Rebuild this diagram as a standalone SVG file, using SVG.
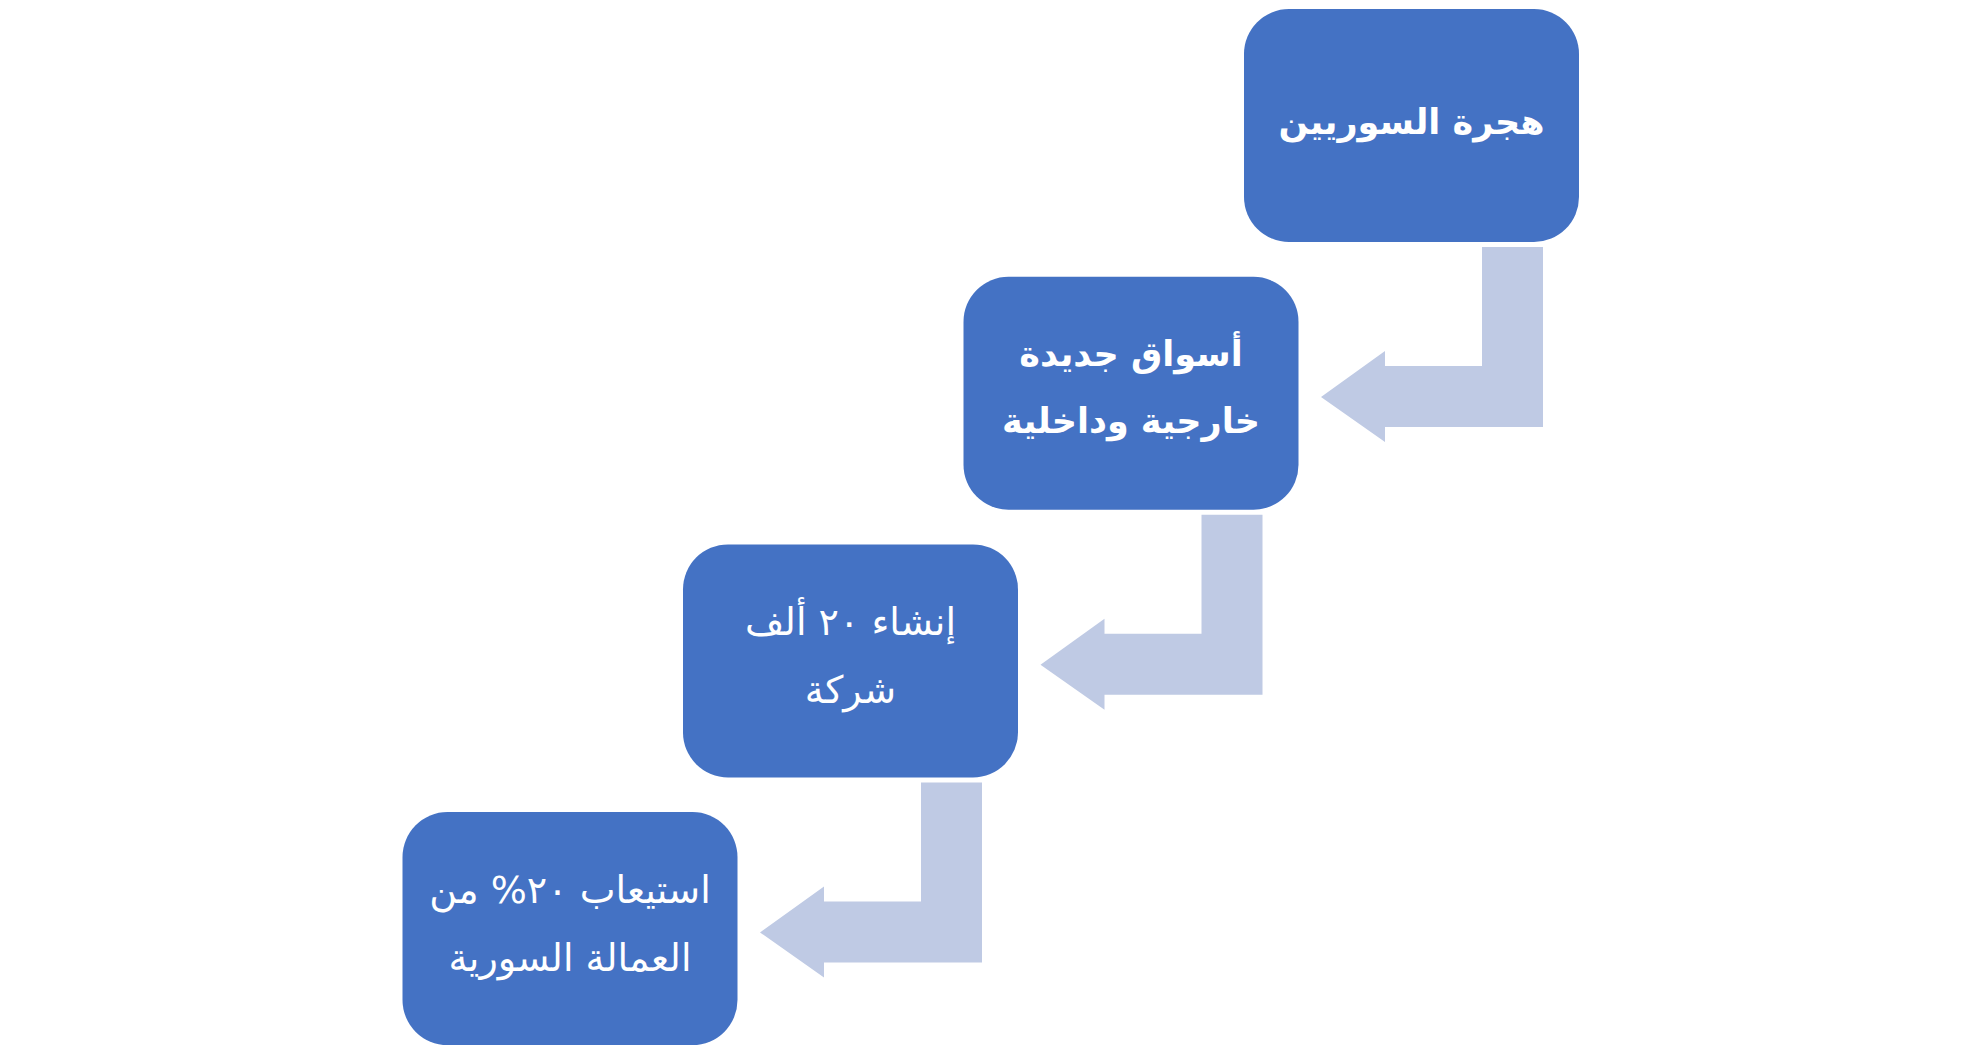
<svg xmlns="http://www.w3.org/2000/svg" width="1980" height="1053" viewBox="0 0 1980 1053">
<style>
.box{fill:#4472C4}
.arr{fill:#BFCAE4}
.t{font-family:"DejaVu Sans",sans-serif;fill:#FFFFFF;text-anchor:middle;direction:rtl}
.b{font-weight:bold;font-size:35px}
.r{font-size:38px}
</style>
<rect width="1980" height="1053" fill="#FFFFFF"/>
<g id="connectors">
<path id="c1" class="arr" d="M1482,247 L1543,247 L1543,427 L1385,427 L1385,442 L1321,397 L1385,351 L1385,366 L1482,366 Z"/>
<path id="c2" class="arr" transform="translate(-280.5,267.7)" d="M1482,247 L1543,247 L1543,427 L1385,427 L1385,442 L1321,397 L1385,351 L1385,366 L1482,366 Z"/>
<path id="c3" class="arr" transform="translate(-561,535.4)" d="M1482,247 L1543,247 L1543,427 L1385,427 L1385,442 L1321,397 L1385,351 L1385,366 L1482,366 Z"/>
</g>
<g id="n1">
<rect class="box" x="1244" y="9" width="335" height="233" rx="45"/>
<text class="t b" x="1411.5" y="134">هجرة السوريين</text>
</g>
<g id="n2">
<rect class="box" x="963.5" y="276.7" width="335" height="233" rx="45"/>
<text class="t b" x="1131" y="366">أسواق جديدة</text>
<text class="t b" x="1131" y="433">خارجية وداخلية</text>
</g>
<g id="n3">
<rect class="box" x="683" y="544.4" width="335" height="233" rx="45"/>
<text class="t r" x="850.5" y="635">إنشاء ٢٠ ألف</text>
<text class="t r" x="850.5" y="703">شركة</text>
</g>
<g id="n4">
<rect class="box" x="402.5" y="812.1" width="335" height="233" rx="45"/>
<text class="t r" x="570" y="903">استيعاب ٢٠% من</text>
<text class="t r" x="570" y="971">العمالة السورية</text>
</g>
</svg>
